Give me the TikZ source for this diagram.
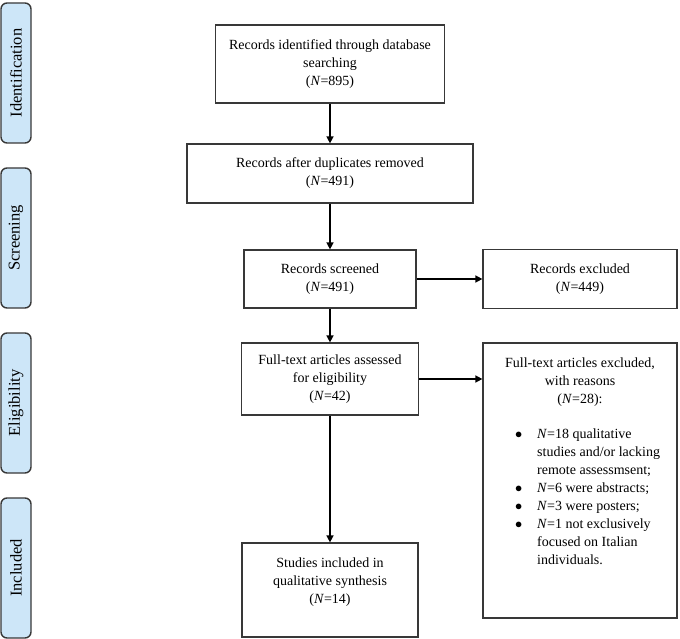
\documentclass[tikz,border=0pt]{standalone}
\usepackage{fontspec}
\setmainfont{Liberation Serif}
\usepackage{tikz}
\usetikzlibrary{positioning,arrows.meta}
\definecolor{stagefill}{HTML}{CDE6F8}
\definecolor{edge}{HTML}{383838}
\tikzset{%
  ptr/.style={%
    -{Triangle[length=7pt,width=7pt]},
    line width=0.5mm,
    draw=black
  },
  stage/.style={%
    draw=edge, fill=stagefill, line width=1.4pt,
    rounded corners=6pt, rotate=90,
    minimum width=140pt, minimum height=30pt,
    inner sep=0pt, font=\fontsize{16.5}{20}\selectfont
  },
  flowbox/.style={%
    draw=edge, line width=1.2pt, align=center,
    inner sep=0pt
  }
}
\newcommand{\bitem}{$\bullet$}

\begin{document}
\begin{tikzpicture}[x=1pt,y=-1pt,font=\fontsize{14}{18}\selectfont]
    \useasboundingbox (0,0) rectangle (680,639);

    % phases
    \node[stage] (ident) at (16,73) {Identification};
    \node[stage] (screen) at (16,238) {Screening};
    \node[stage] (elig) at (16,403) {Eligibility};
    \node[stage] (incl) at (16,568) {Included};

    % main column
    \node[flowbox,minimum width=229pt,minimum height=78pt] (found) at (330,64)
      {Records identified through database\\searching\\(\textit{N}=895)};
    \node[flowbox,minimum width=286pt,minimum height=59pt] (dedup) at (330,173.5)
      {Records after duplicates removed\\(\textit{N}=491)};
    \node[flowbox,minimum width=172pt,minimum height=58pt] (screened) at (330,279)
      {Records screened\\(\textit{N}=491)};
    \node[flowbox,minimum width=177pt,minimum height=72pt] (fulltext) at (330,379)
      {Full-text articles assessed\\for eligibility\\(\textit{N}=42)};
    \node[flowbox,minimum width=176pt,minimum height=94pt] (studies) at (330,590)
      {Studies included in\\qualitative synthesis\\(\textit{N}=14)\\~};

    % excluded
    \node[flowbox,minimum width=194pt,minimum height=275pt] (ftexcl) at (580,480.5)
      {\parbox[c][245pt][t]{180pt}{\centering
        Full-text articles excluded,\\with reasons\\(\textit{N}=28):\par\vspace{18pt}
        \raggedright\hspace*{25pt}%
        \begin{tabular}{@{}c@{\hspace{15pt}}l@{}}
          \bitem & \textit{N}=18 qualitative\\
                 & studies and/or lacking\\
                 & remote assessmsent;\\
          \bitem & \textit{N}=6 were abstracts;\\
          \bitem & \textit{N}=3 were posters;\\
          \bitem & \textit{N}=1 not exclusively\\
                 & focused on Italian\\
                 & individuals.
        \end{tabular}}};
    \node[flowbox,minimum width=194pt,minimum height=59pt] (recexcl) at (580,279)
      {Records excluded\\(\textit{N}=449)};

    \draw[ptr] (found.south) -- (dedup.north);
    \draw[ptr] (dedup.south) -- (screened.north);
    \draw[ptr] (screened.south) -- (fulltext.north);
    \draw[ptr] (fulltext.south) -- (studies.north);
    \draw[ptr] (screened.east) -- (screened.east -| recexcl.west);
    \draw[ptr] (fulltext.east) -- (fulltext.east -| ftexcl.west);
\end{tikzpicture}
\end{document}
